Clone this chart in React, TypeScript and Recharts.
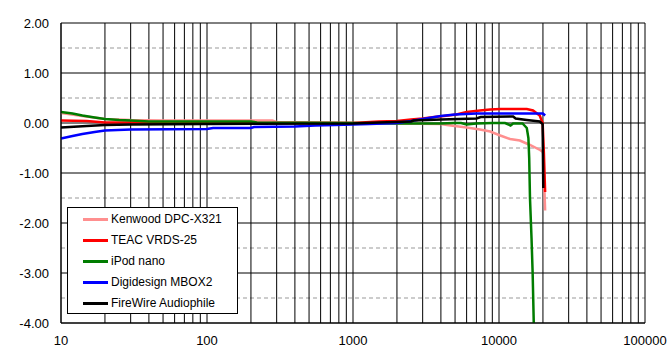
import { LineChart, Line, XAxis, YAxis, CartesianGrid, ReferenceLine, Legend } from 'recharts';

// frequency (Hz) / deviation (dB) pairs
const kenwoodHz = [10, 14, 20, 30, 50, 100, 280, 300, 1000, 2000, 4000, 4400, 6000, 7400, 8700, 10200, 11900, 13900, 16300, 19100, 20000, 20100, 20400, 20700];
const kenwoodDb = [0.2, 0.14, 0.08, 0.06, 0.05, 0.05, 0.05, 0.02, 0.0, -0.01, -0.02, -0.04, -0.09, -0.13, -0.17, -0.25, -0.32, -0.35, -0.44, -0.54, -0.58, -0.62, -1.2, -1.75];

const teacHz = [10, 15, 20, 50, 100, 1000, 1500, 2000, 2500, 3000, 3600, 4200, 5100, 6000, 7400, 8700, 10200, 15500, 17100, 19000, 19900, 20300, 20700];
const teacDb = [0.05, 0.04, 0.01, 0.01, 0.0, 0.0, 0.03, 0.04, 0.07, 0.09, 0.12, 0.14, 0.17, 0.22, 0.25, 0.27, 0.28, 0.28, 0.25, 0.15, 0.0, -0.6, -1.38];

const ipodHz = [10, 12, 14, 17, 20, 25, 30, 40, 200, 220, 1000, 2000, 4000, 4900, 5500, 6000, 7000, 9000, 11000, 12000, 12500, 14500, 15500, 15900, 16100, 16300, 16700, 17000, 17300];
const ipodDb = [0.22, 0.19, 0.15, 0.11, 0.08, 0.06, 0.05, 0.03, 0.03, 0.01, 0.0, -0.01, -0.01, 0.0, 0.0, -0.03, -0.01, 0.0, 0.0, -0.05, -0.01, -0.01, -0.1, -0.3, -0.7, -1.5, -2.3, -3.0, -4.0];

const mboxHz = [10, 12, 14, 17, 20, 30, 100, 110, 200, 210, 400, 550, 750, 1300, 2000, 2500, 3000, 4000, 5000, 7000, 20000, 20700];
const mboxDb = [-0.31, -0.26, -0.22, -0.18, -0.15, -0.13, -0.12, -0.1, -0.1, -0.08, -0.07, -0.05, -0.04, -0.02, 0.0, 0.04, 0.08, 0.14, 0.17, 0.19, 0.19, 0.15];

const firewireHz = [10, 15, 20, 30, 100, 1000, 1500, 2500, 2600, 4000, 7000, 7500, 12500, 13000, 15500, 19000, 19900, 20100];
const firewireDb = [-0.09, -0.06, -0.04, -0.03, -0.02, -0.01, 0.01, 0.03, 0.05, 0.07, 0.09, 0.12, 0.13, 0.09, 0.06, 0.03, -0.02, -1.3];

const xTicks = [10, 20, 30, 40, 50, 60, 70, 80, 90, 100, 200, 300, 400, 500, 600, 700, 800, 900, 1000, 2000, 3000, 4000, 5000, 6000, 7000, 8000, 9000, 10000, 20000, 30000, 40000, 50000, 60000, 70000, 80000, 90000, 100000];
const xLabels = [10, 100, 1000, 10000, 100000];
const yTicks = [-4, -3, -2, -1, 0, 1, 2];
const yHalves = [-3.5, -2.5, -1.5, -0.5, 0.5, 1.5];

const toPoints = (hz: number[], db: number[]) => hz.map((f, i) => ({ f, v: db[i] }));

const series = [
    { name: 'Kenwood DPC-X321', color: '#ff8f8f', data: toPoints(kenwoodHz, kenwoodDb) },
    { name: 'TEAC VRDS-25', color: '#ff0000', data: toPoints(teacHz, teacDb) },
    { name: 'iPod nano', color: '#007c00', data: toPoints(ipodHz, ipodDb) },
    { name: 'Digidesign MBOX2', color: '#0000ff', data: toPoints(mboxHz, mboxDb) },
    { name: 'FireWire Audiophile', color: '#000000', data: toPoints(firewireHz, firewireDb) }
];

const font = '"Liberation Sans", Arial, sans-serif';

function LegendBox() {
    return (
        <div style={{ position: 'relative', width: 171, height: 107, boxSizing: 'border-box', border: '1px solid #000', background: '#fff', fontFamily: font, fontSize: 12, color: '#000' }}>
            {series.map((s, i) => (
                <div key={s.name} style={{ position: 'absolute', left: 0, top: 11 + 21 * i - 10, height: 21, width: 169 }}>
                    <div style={{ position: 'absolute', left: 15, top: 9, width: 25, height: 3, background: s.color }} />
                    <div style={{ position: 'absolute', left: 43, top: 0, lineHeight: '21px', whiteSpace: 'nowrap' }}>{s.name}</div>
                </div>
            ))}
        </div>
    );
}

export default function App() {
    return (
        <div style={{ position: 'absolute', left: 0, top: 0, width: 672, height: 363, background: '#fff' }}>
            <LineChart width={672} height={363} margin={{ top: 23, right: 27, left: 0, bottom: 0 }}>
                <CartesianGrid stroke="#000" strokeWidth={1} vertical={false} />
                {yHalves.map((y) => (
                    <ReferenceLine key={'h' + y} y={y} stroke="#999" strokeDasharray="4 3" />
                ))}
                {/* vertical grid on top of the dashed half lines */}
                {xTicks.map((x) => (
                    <ReferenceLine key={'v' + x} x={x} stroke="#000" />
                ))}
                <XAxis
                    dataKey="f"
                    type="number"
                    scale="log"
                    domain={[10, 100000]}
                    ticks={xTicks}
                    interval={0}
                    tickFormatter={(v) => (xLabels.includes(v) ? String(v) : '')}
                    height={40}
                    axisLine={{ stroke: '#000' }}
                    tickLine={false}
                    tickSize={0}
                    tickMargin={13}
                    tick={{ fontSize: 13, fill: '#000', fontFamily: font }}
                />
                <YAxis
                    type="number"
                    domain={[-4, 2]}
                    ticks={yTicks}
                    allowDataOverflow
                    tickFormatter={(v) => v.toFixed(2)}
                    width={61}
                    axisLine={{ stroke: '#000' }}
                    tickLine={false}
                    tickSize={0}
                    tickMargin={12}
                    tick={{ fontSize: 13, fill: '#000', fontFamily: font }}
                />
                {series.map((s) => (
                    <Line
                        key={s.name}
                        data={s.data}
                        dataKey="v"
                        name={s.name}
                        type="linear"
                        stroke={s.color}
                        strokeWidth={2.5}
                        dot={false}
                        activeDot={false}
                        isAnimationActive={false}
                    />
                ))}
                <Legend
                    layout="vertical"
                    align="center"
                    verticalAlign="middle"
                    wrapperStyle={{ left: 67, top: 207, width: 171, height: 107 }}
                    content={() => <LegendBox />}
                />
            </LineChart>
        </div>
    );
}
